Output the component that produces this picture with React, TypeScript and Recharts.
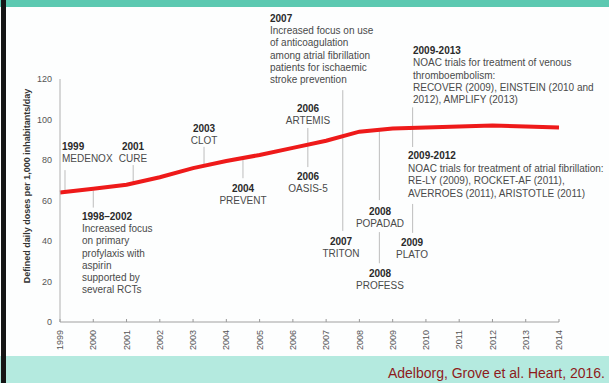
import React from 'react';
import { LineChart, Line, XAxis, YAxis, ReferenceLine } from 'recharts';

const years = [1999, 2000, 2001, 2002, 2003, 2004, 2005, 2006, 2007, 2008, 2009, 2010, 2011, 2012, 2013, 2014];
const doses = [64, 65.8, 67.8, 71.5, 76, 79.5, 82.5, 86, 89.5, 94, 95.5, 96, 96.5, 97, 96.5, 96];
const yTicks = [0, 20, 40, 60, 80, 100, 120];

const yAxisTitle = 'Defined daily doses per 1,000 inhabitants/day';
const caption = 'Adelborg, Grove et al. Heart, 2016.';

// connector lines in data units: year position, from value, to value
const connectors = [
  { x: 1999.15, from: 75, to: 64 },
  { x: 2000, from: 65, to: 56.5 },
  { x: 2001.2, from: 77.5, to: 68 },
  { x: 2003.33, from: 86.5, to: 77 },
  { x: 2004.5, from: 81, to: 71 },
  { x: 2006.45, from: 95.8, to: 76.5 },
  { x: 2007.5, from: 114.5, to: 45 },
  { x: 2008.6, from: 95, to: 60.2 },
  { x: 2008.6, from: 44.4, to: 29 },
  { x: 2009.6, from: 106, to: 86.4 },
  { x: 2009.6, from: 58.3, to: 44 },
];

// centered short labels: [year, name]
const centered = [
  { x: 133, y: 150, year: '2001', name: 'CURE' },
  { x: 204, y: 132, year: '2003', name: 'CLOT' },
  { x: 243, y: 192, year: '2004', name: 'PREVENT' },
  { x: 308, y: 112, year: '2006', name: 'ARTEMIS' },
  { x: 308, y: 180, year: '2006', name: 'OASIS-5' },
  { x: 341, y: 245, year: '2007', name: 'TRITON' },
  { x: 380, y: 215, year: '2008', name: 'POPADAD' },
  { x: 380, y: 277, year: '2008', name: 'PROFESS' },
  { x: 412, y: 246, year: '2009', name: 'PLATO' },
];

const blocks = [
  { x: 62, y: 150, step: 12, head: '1999', lines: ['MEDENOX'] },
  { x: 82, y: 220, step: 12.2, head: '1998\u20132002', lines: ['Increased focus', 'on primary', 'profylaxis with', 'aspirin', 'supported by', 'several RCTs'] },
  { x: 270, y: 22, step: 12.2, head: '2007', lines: ['Increased focus on use', 'of anticoagulation', 'among atrial fibrillation', 'patients for ischaemic', 'stroke prevention'] },
  { x: 413, y: 54, step: 12.3, head: '2009-2013', lines: ['NOAC trials for treatment of venous', 'thromboembolism:', 'RECOVER (2009), EINSTEIN (2010 and', '2012), AMPLIFY (2013)'] },
  { x: 408, y: 159, step: 12.5, head: '2009-2012', lines: ['NOAC trials for treatment of atrial fibrillation:', 'RE-LY (2009), ROCKET-AF (2011),', 'AVERROES (2011), ARISTOTLE (2011)'] },
];

const data = years.map((y, i) => ({ year: y, ddd: doses[i] }));

const FONT = '"Liberation Sans", Arial, sans-serif';
const TEXT = '#4a4a4a';
const HEAD = '#2a2a2a';

const XTick = (props: any) => {
  const { x, y, payload } = props;
  const ay = y - 8;
  return (
    <g>
      <line x1={x} x2={x} y1={ay} y2={ay - 3} stroke="#999" strokeWidth={1} />
      <text
        x={x}
        y={y}
        transform={`rotate(-90 ${x} ${y})`}
        textAnchor="end"
        dy="0.35em"
        fontSize={9}
        fill="#555"
        fontFamily={FONT}
      >
        {payload.value}
      </text>
    </g>
  );
};

export default function App() {
  return (
    <div style={{ position: 'absolute', left: 0, top: 0, width: 609, height: 383, background: '#fdfefe', overflow: 'hidden', fontFamily: FONT }}>
      <div style={{ position: 'absolute', left: 0, top: 0, width: 609, height: 7, background: '#5cc9b1' }} />
      <div style={{ position: 'absolute', left: 0, top: 356, width: 609, height: 27, background: '#b4eadf' }} />
      <div style={{ position: 'absolute', left: 1, top: 0, width: 5, height: 383, background: '#151515' }} />
      <div style={{ position: 'absolute', left: 0, top: 0 }}>
        <LineChart width={609} height={383} data={data} margin={{ top: 79, right: 50, bottom: 0, left: 0 }}>
          <XAxis
            dataKey="year"
            type="number"
            domain={[1999, 2014]}
            ticks={years}
            interval={0}
            height={61}
            tickLine={false}
            axisLine={{ stroke: '#a0a0a0' }}
            tick={<XTick />}
          />
          <YAxis
            type="number"
            domain={[0, 120]}
            ticks={yTicks}
            width={60}
            tickLine={false}
            axisLine={{ stroke: '#b0b0b0' }}
            tick={{ fontSize: 9, fill: '#555', fontFamily: FONT }}
          />
          {connectors.map((c, i) => (
            <ReferenceLine
              key={i}
              segment={[{ x: c.x, y: c.from }, { x: c.x, y: c.to }]}
              stroke="#bdbdbd"
              strokeWidth={1}
              ifOverflow="visible"
            />
          ))}
          <Line
            type="linear"
            dataKey="ddd"
            stroke="#ee1a1a"
            strokeWidth={4}
            dot={false}
            isAnimationActive={false}
          />
        </LineChart>
      </div>
      <svg width={609} height={383} style={{ position: 'absolute', left: 0, top: 0, pointerEvents: 'none' }}>
        <text
          x={27}
          y={186}
          transform="rotate(-90 27 186)"
          textAnchor="middle"
          dy="0.35em"
          fontSize={9}
          fontWeight="bold"
          fill="#333"
          fontFamily={FONT}
        >
          {yAxisTitle}
        </text>
        {centered.map((c, i) => (
          <g key={i} fontFamily={FONT} fontSize={10} textAnchor="middle">
            <text x={c.x} y={c.y} fontWeight="bold" fill={HEAD}>{c.year}</text>
            <text x={c.x} y={c.y + 12} fill={TEXT}>{c.name}</text>
          </g>
        ))}
        {blocks.map((b, i) => (
          <g key={i} fontFamily={FONT} fontSize={10}>
            <text x={b.x} y={b.y} fontWeight="bold" fill={HEAD}>{b.head}</text>
            {b.lines.map((l, j) => (
              <text key={j} x={b.x} y={b.y + b.step * (j + 1)} fill={TEXT}>{l}</text>
            ))}
          </g>
        ))}
        <text x={605} y={378} textAnchor="end" fontSize={14} fill="#8e1b1b" fontFamily={FONT}>{caption}</text>
      </svg>
    </div>
  );
}
